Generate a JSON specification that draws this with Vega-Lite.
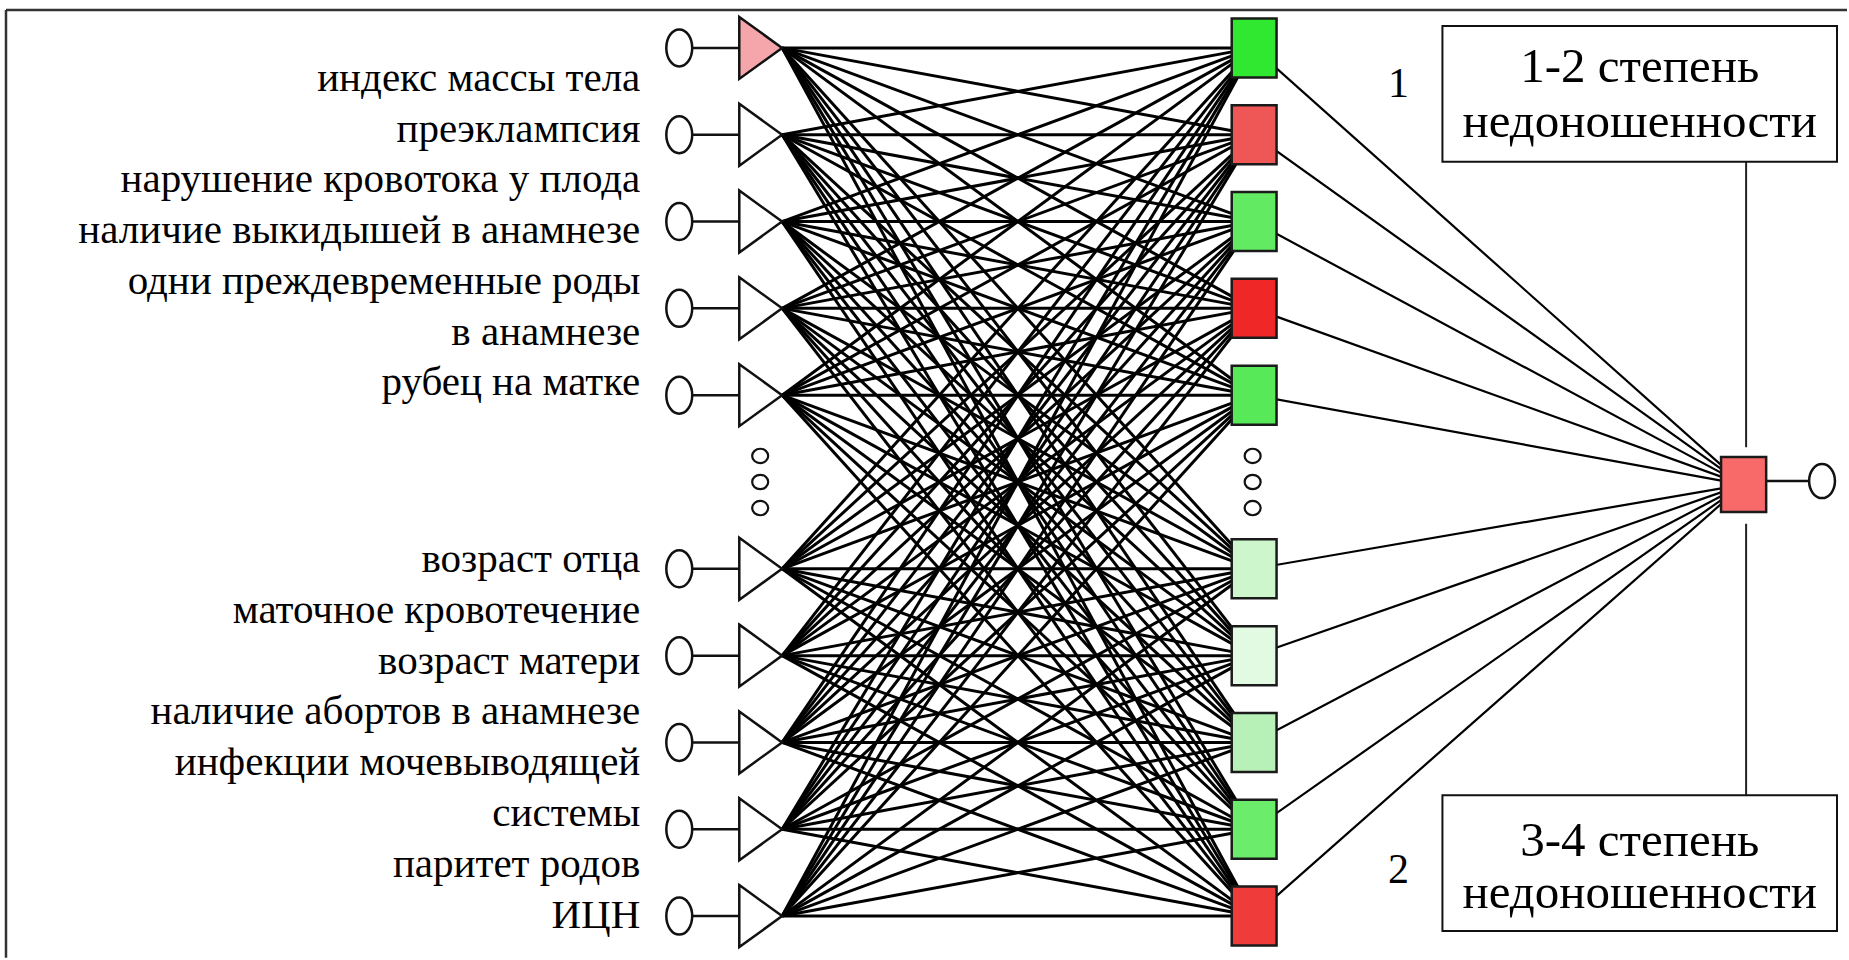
{
  "$schema": "https://vega.github.io/schema/vega-lite/v6.json",
  "width": 1849,
  "height": 960,
  "padding": 0,
  "autosize": {"type": "fit", "contains": "padding"},
  "background": "white",
  "config": {
    "view": {"stroke": null},
    "axis": {"disable": true},
    "legend": {"disable": true}
  },
  "datasets": {
    "inputs": [
      {"slot": 0, "node": "x1"}, {"slot": 1, "node": "x2"}, {"slot": 2, "node": "x3"},
      {"slot": 3, "node": "x4"}, {"slot": 4, "node": "x5"}, {"slot": 6, "node": "x6"},
      {"slot": 7, "node": "x7"}, {"slot": 8, "node": "x8"}, {"slot": 9, "node": "x9"},
      {"slot": 10, "node": "x10"}
    ],
    "hidden": [
      {"slot": 0, "node": "h1"}, {"slot": 1, "node": "h2"}, {"slot": 2, "node": "h3"},
      {"slot": 3, "node": "h4"}, {"slot": 4, "node": "h5"}, {"slot": 6, "node": "h6"},
      {"slot": 7, "node": "h7"}, {"slot": 8, "node": "h8"}, {"slot": 9, "node": "h9"},
      {"slot": 10, "node": "h10"}
    ],
    "edges": [
      {"from": 0, "to": 0}, {"from": 0, "to": 1}, {"from": 0, "to": 2}, {"from": 0, "to": 3}, {"from": 0, "to": 4},
      {"from": 0, "to": 6}, {"from": 0, "to": 7}, {"from": 0, "to": 8}, {"from": 0, "to": 9}, {"from": 0, "to": 10},
      {"from": 1, "to": 0}, {"from": 1, "to": 1}, {"from": 1, "to": 2}, {"from": 1, "to": 3}, {"from": 1, "to": 4},
      {"from": 1, "to": 6}, {"from": 1, "to": 7}, {"from": 1, "to": 8}, {"from": 1, "to": 9}, {"from": 1, "to": 10},
      {"from": 2, "to": 0}, {"from": 2, "to": 1}, {"from": 2, "to": 2}, {"from": 2, "to": 3}, {"from": 2, "to": 4},
      {"from": 2, "to": 6}, {"from": 2, "to": 7}, {"from": 2, "to": 8}, {"from": 2, "to": 9}, {"from": 2, "to": 10},
      {"from": 3, "to": 0}, {"from": 3, "to": 1}, {"from": 3, "to": 2}, {"from": 3, "to": 3}, {"from": 3, "to": 4},
      {"from": 3, "to": 6}, {"from": 3, "to": 7}, {"from": 3, "to": 8}, {"from": 3, "to": 9}, {"from": 3, "to": 10},
      {"from": 4, "to": 0}, {"from": 4, "to": 1}, {"from": 4, "to": 2}, {"from": 4, "to": 3}, {"from": 4, "to": 4},
      {"from": 4, "to": 6}, {"from": 4, "to": 7}, {"from": 4, "to": 8}, {"from": 4, "to": 9}, {"from": 4, "to": 10},
      {"from": 6, "to": 0}, {"from": 6, "to": 1}, {"from": 6, "to": 2}, {"from": 6, "to": 3}, {"from": 6, "to": 4},
      {"from": 6, "to": 6}, {"from": 6, "to": 7}, {"from": 6, "to": 8}, {"from": 6, "to": 9}, {"from": 6, "to": 10},
      {"from": 7, "to": 0}, {"from": 7, "to": 1}, {"from": 7, "to": 2}, {"from": 7, "to": 3}, {"from": 7, "to": 4},
      {"from": 7, "to": 6}, {"from": 7, "to": 7}, {"from": 7, "to": 8}, {"from": 7, "to": 9}, {"from": 7, "to": 10},
      {"from": 8, "to": 0}, {"from": 8, "to": 1}, {"from": 8, "to": 2}, {"from": 8, "to": 3}, {"from": 8, "to": 4},
      {"from": 8, "to": 6}, {"from": 8, "to": 7}, {"from": 8, "to": 8}, {"from": 8, "to": 9}, {"from": 8, "to": 10},
      {"from": 9, "to": 0}, {"from": 9, "to": 1}, {"from": 9, "to": 2}, {"from": 9, "to": 3}, {"from": 9, "to": 4},
      {"from": 9, "to": 6}, {"from": 9, "to": 7}, {"from": 9, "to": 8}, {"from": 9, "to": 9}, {"from": 9, "to": 10},
      {"from": 10, "to": 0}, {"from": 10, "to": 1}, {"from": 10, "to": 2}, {"from": 10, "to": 3}, {"from": 10, "to": 4},
      {"from": 10, "to": 6}, {"from": 10, "to": 7}, {"from": 10, "to": 8}, {"from": 10, "to": 9}, {"from": 10, "to": 10}
    ],
    "dots": [{"slot": 4.7}, {"slot": 5.0}, {"slot": 5.3}],
    "labels": [
      {"text": "индекс массы тела", "line": 0.494},
      {"text": "преэклампсия", "line": 1.079},
      {"text": "нарушение кровотока у плода", "line": 1.664},
      {"text": "наличие выкидышей в анамнезе", "line": 2.249},
      {"text": "одни преждевременные роды", "line": 2.834},
      {"text": "в анамнезе", "line": 3.419},
      {"text": "рубец на матке", "line": 4.0},
      {"text": "возраст отца", "line": 6.034},
      {"text": "маточное кровотечение", "line": 6.62},
      {"text": "возраст матери", "line": 7.206},
      {"text": "наличие абортов в анамнезе", "line": 7.792},
      {"text": "инфекции мочевыводящей", "line": 8.378},
      {"text": "системы", "line": 8.964},
      {"text": "паритет родов", "line": 9.55},
      {"text": "ИЦН", "line": 10.136}
    ],
    "classes": [
      {"text": "1-2 степень", "line": 0.391},
      {"text": "недоношенности", "line": 1.023},
      {"text": "3-4 степень", "line": 9.31},
      {"text": "недоношенности", "line": 9.908}
    ],
    "outputs": [{"text": "1", "line": 0.563}, {"text": "2", "line": 9.621}],
    "boxes": [{"top": -0.253, "bottom": 1.31}, {"top": 8.609, "bottom": 10.172}]
  },
  "layer": [
    {
      "data": {"values": [{}]},
      "mark": {"type": "rule", "stroke": "#333333", "strokeWidth": 2.5},
      "encoding": {
        "x": {"datum": 6, "type": "quantitative", "scale": {"domain": [0, 1849], "nice": false, "zero": false}},
        "y": {"datum": -0.437, "type": "quantitative", "scale": {"domain": [-0.5517, 10.4828], "reverse": true, "nice": false, "zero": false}},
        "y2": {"datum": 10.48}
      }
    },
    {
      "data": {"values": [{}]},
      "mark": {"type": "rule", "stroke": "#333333", "strokeWidth": 2.5},
      "encoding": {
        "x": {"datum": 6, "type": "quantitative"},
        "x2": {"datum": 1849},
        "y": {"datum": -0.437, "type": "quantitative"}
      }
    },
    {
      "data": {"name": "inputs"},
      "mark": {"type": "rule", "stroke": "#111111", "strokeWidth": 2.5},
      "encoding": {
        "x": {"datum": 680, "type": "quantitative"},
        "x2": {"datum": 760},
        "y": {"field": "slot", "type": "quantitative"}
      }
    },
    {
      "data": {"name": "edges"},
      "mark": {"type": "rule", "stroke": "#000000", "strokeWidth": 3},
      "encoding": {
        "x": {"datum": 783, "type": "quantitative"},
        "x2": {"datum": 1255},
        "y": {"field": "from", "type": "quantitative"},
        "y2": {"field": "to"}
      }
    },
    {
      "data": {"name": "hidden"},
      "mark": {"type": "rule", "stroke": "#000000", "strokeWidth": 2.2},
      "encoding": {
        "x": {"datum": 1255, "type": "quantitative"},
        "x2": {"datum": 1745},
        "y": {"field": "slot", "type": "quantitative"},
        "y2": {"datum": 5.03}
      }
    },
    {
      "data": {"values": [{}]},
      "mark": {"type": "rule", "stroke": "#111111", "strokeWidth": 2.5},
      "encoding": {
        "x": {"datum": 1745, "type": "quantitative"},
        "x2": {"datum": 1824},
        "y": {"datum": 4.99, "type": "quantitative"}
      }
    },
    {
      "data": {"values": [{}]},
      "mark": {"type": "rule", "stroke": "#222222", "strokeWidth": 2},
      "encoding": {
        "x": {"datum": 1748, "type": "quantitative"},
        "y": {"datum": 1.31, "type": "quantitative"},
        "y2": {"datum": 4.6}
      }
    },
    {
      "data": {"values": [{}]},
      "mark": {"type": "rule", "stroke": "#222222", "strokeWidth": 2},
      "encoding": {
        "x": {"datum": 1748, "type": "quantitative"},
        "y": {"datum": 5.48, "type": "quantitative"},
        "y2": {"datum": 8.61}
      }
    },
    {
      "data": {"name": "inputs"},
      "mark": {"type": "point", "filled": true, "fill": "white", "stroke": "#111111", "strokeWidth": 2.5, "opacity": 1,
               "shape": "M -0.7 0 A 0.7 1 0 1 0 0.7 0 A 0.7 1 0 1 0 -0.7 0 Z", "size": 1369},
      "encoding": {
        "x": {"datum": 680, "type": "quantitative"},
        "y": {"field": "slot", "type": "quantitative"}
      }
    },
    {
      "data": {"name": "inputs"},
      "mark": {"type": "point", "filled": true, "stroke": "#111111", "strokeWidth": 2.5, "opacity": 1, "strokeJoin": "miter",
               "shape": "M -0.69 -1 L 0.69 0 L -0.69 1 Z", "size": 3844},
      "encoding": {
        "x": {"datum": 761.5, "type": "quantitative"},
        "y": {"field": "slot", "type": "quantitative"},
        "color": {
          "field": "node", "type": "nominal",
          "scale": {
            "domain": ["x1", "x2", "x3", "x4", "x5", "x6", "x7", "x8", "x9", "x10", "h1", "h2", "h3", "h4", "h5", "h6", "h7", "h8", "h9", "h10"],
            "range": ["#f5a6aa", "#ffffff", "#ffffff", "#ffffff", "#ffffff", "#ffffff", "#ffffff", "#ffffff", "#ffffff", "#ffffff",
                      "#2fe82f", "#ef5757", "#62ea62", "#ef2727", "#57e957", "#cdf6cd", "#e2f9e2", "#b8f1b8", "#6bec6b", "#f03b3b"]
          }
        }
      }
    },
    {
      "data": {"name": "hidden"},
      "mark": {"type": "point", "filled": true, "stroke": "#1a1a1a", "strokeWidth": 2.5, "opacity": 1,
               "shape": "M -0.76 -1 L 0.76 -1 L 0.76 1 L -0.76 1 Z", "size": 3481},
      "encoding": {
        "x": {"datum": 1255.5, "type": "quantitative"},
        "y": {"field": "slot", "type": "quantitative"},
        "color": {
          "field": "node", "type": "nominal",
          "scale": {
            "domain": ["x1", "x2", "x3", "x4", "x5", "x6", "x7", "x8", "x9", "x10", "h1", "h2", "h3", "h4", "h5", "h6", "h7", "h8", "h9", "h10"],
            "range": ["#f5a6aa", "#ffffff", "#ffffff", "#ffffff", "#ffffff", "#ffffff", "#ffffff", "#ffffff", "#ffffff", "#ffffff",
                      "#2fe82f", "#ef5757", "#62ea62", "#ef2727", "#57e957", "#cdf6cd", "#e2f9e2", "#b8f1b8", "#6bec6b", "#f03b3b"]
          }
        }
      }
    },
    {
      "data": {"values": [{"node": "out"}]},
      "mark": {"type": "point", "filled": true, "fill": "#f86a6a", "stroke": "#1a1a1a", "strokeWidth": 2.5, "opacity": 1,
               "shape": "M -0.82 -1 L 0.82 -1 L 0.82 1 L -0.82 1 Z", "size": 3025},
      "encoding": {
        "x": {"datum": 1745.5, "type": "quantitative"},
        "y": {"datum": 5.03, "type": "quantitative"}
      }
    },
    {
      "data": {"values": [{"node": "out"}]},
      "mark": {"type": "point", "filled": true, "fill": "white", "stroke": "#111111", "strokeWidth": 2.5, "opacity": 1,
               "shape": "M -0.76 0 A 0.76 1 0 1 0 0.76 0 A 0.76 1 0 1 0 -0.76 0 Z", "size": 1156},
      "encoding": {
        "x": {"datum": 1824, "type": "quantitative"},
        "y": {"datum": 4.99, "type": "quantitative"}
      }
    },
    {
      "data": {"name": "dots"},
      "mark": {"type": "point", "filled": true, "fill": "white", "stroke": "#111111", "strokeWidth": 2.2, "opacity": 1,
               "shape": "M -1 0 A 1 0.9 0 1 0 1 0 A 1 0.9 0 1 0 -1 0 Z", "size": 256},
      "encoding": {
        "x": {"datum": 761, "type": "quantitative"},
        "y": {"field": "slot", "type": "quantitative"}
      }
    },
    {
      "data": {"name": "dots"},
      "mark": {"type": "point", "filled": true, "fill": "white", "stroke": "#111111", "strokeWidth": 2.2, "opacity": 1,
               "shape": "M -1 0 A 1 0.9 0 1 0 1 0 A 1 0.9 0 1 0 -1 0 Z", "size": 256},
      "encoding": {
        "x": {"datum": 1254, "type": "quantitative"},
        "y": {"field": "slot", "type": "quantitative"}
      }
    },
    {
      "data": {"name": "boxes"},
      "mark": {"type": "rect", "fill": "white", "stroke": "#111111", "strokeWidth": 2},
      "encoding": {
        "x": {"datum": 1444, "type": "quantitative"},
        "x2": {"datum": 1839},
        "y": {"field": "top", "type": "quantitative"},
        "y2": {"field": "bottom"}
      }
    },
    {
      "data": {"name": "labels"},
      "mark": {"type": "text", "align": "right", "baseline": "alphabetic", "font": "Liberation Serif", "fontSize": 41, "color": "#000000"},
      "encoding": {
        "x": {"datum": 641, "type": "quantitative"},
        "y": {"field": "line", "type": "quantitative"},
        "text": {"field": "text"}
      }
    },
    {
      "data": {"name": "classes"},
      "mark": {"type": "text", "align": "center", "baseline": "alphabetic", "font": "Liberation Serif", "fontSize": 49, "color": "#000000"},
      "encoding": {
        "x": {"datum": 1641.5, "type": "quantitative"},
        "y": {"field": "line", "type": "quantitative"},
        "text": {"field": "text"}
      }
    },
    {
      "data": {"name": "outputs"},
      "mark": {"type": "text", "align": "center", "baseline": "alphabetic", "font": "Liberation Serif", "fontSize": 42, "color": "#000000"},
      "encoding": {
        "x": {"datum": 1400, "type": "quantitative"},
        "y": {"field": "line", "type": "quantitative"},
        "text": {"field": "text"}
      }
    }
  ]
}
